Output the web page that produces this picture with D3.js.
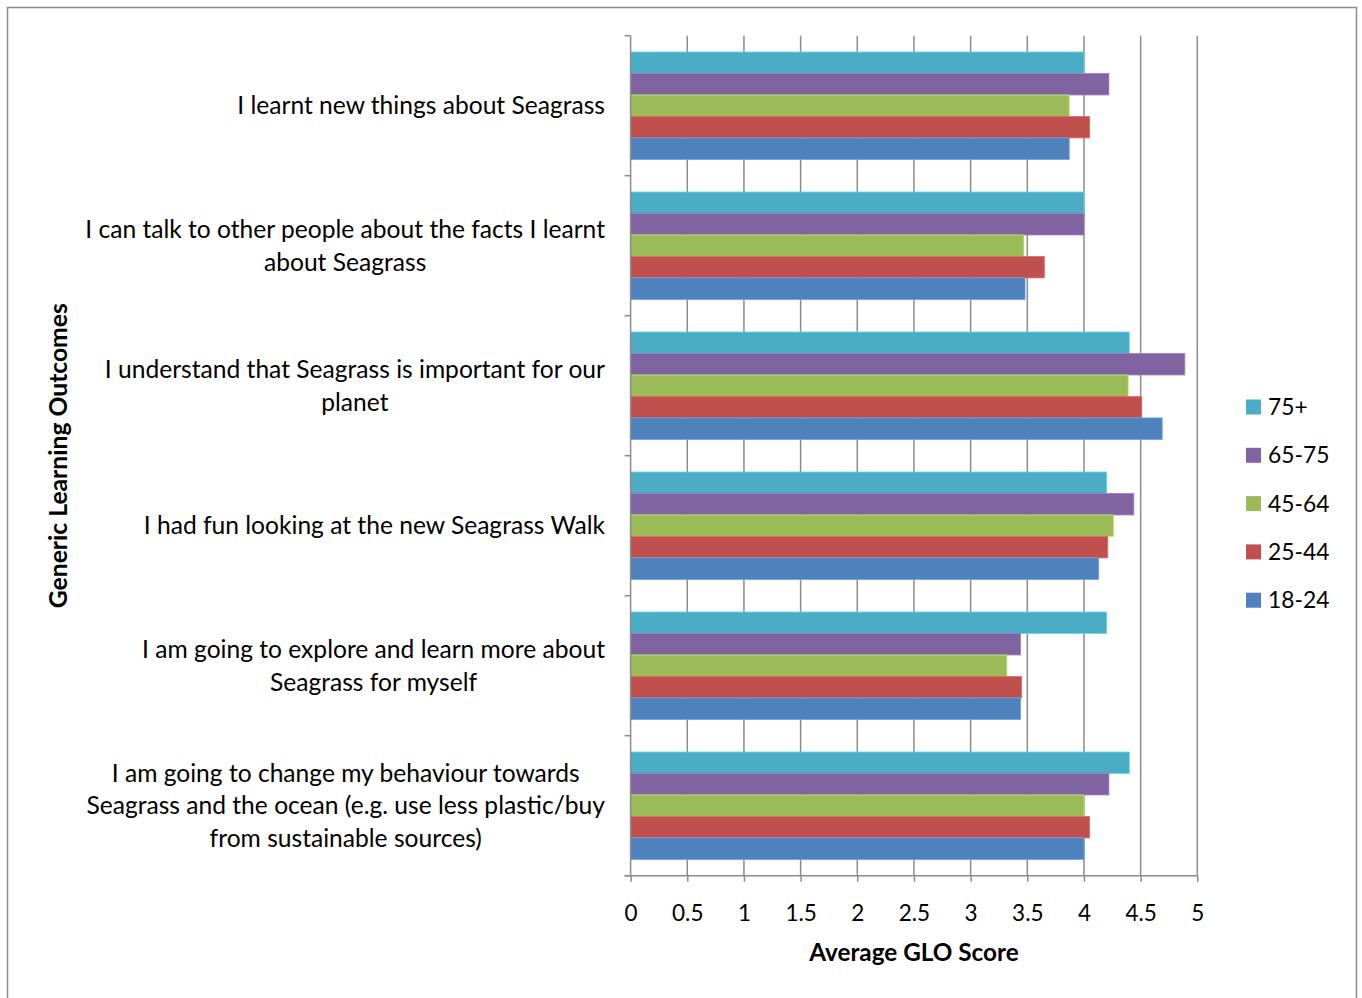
<!DOCTYPE html>
<html>
<head>
<meta charset="utf-8">
<script src="https://cdn.jsdelivr.net/npm/d3@7"></script>
<style>
  body { margin: 0; background: #fff; }
  svg { display: block; font-family: Lato, "Open Sans", sans-serif; }
</style>
</head>
<body>
<svg id="chart" width="1362" height="998"></svg>
<script>
// Generic Learning Outcomes by age group, average GLO score

const outcomes = [
  ['I learnt new things about Seagrass'],
  ['I can talk to other people about the facts I learnt', 'about Seagrass'],
  ['I understand that Seagrass is important for our', 'planet'],
  ['I had fun looking at the new Seagrass Walk'],
  ['I am going to explore and learn more about', 'Seagrass for myself'],
  ['I am going to change my behaviour towards', 'Seagrass and the ocean (e.g. use less plastic/buy', 'from sustainable sources)']
];

// drawn top to bottom inside each group
const ageGroups = ['75+', '65-75', '45-64', '25-44', '18-24'];
const ageColours = ['#4BACC6', '#8064A2', '#9BBB59', '#C0504D', '#4F81BD'];

const score75plus = [4.00, 4.00, 4.40, 4.20, 4.20, 4.40];
const score65to75 = [4.22, 4.00, 4.89, 4.44, 3.44, 4.22];
const score45to64 = [3.87, 3.47, 4.39, 4.26, 3.32, 4.00];
const score25to44 = [4.05, 3.65, 4.51, 4.21, 3.45, 4.05];
const score18to24 = [3.87, 3.48, 4.69, 4.13, 3.44, 4.00];
const seriesScores = [score75plus, score65to75, score45to64, score25to44, score18to24];

const xTicks = [0, 0.5, 1, 1.5, 2, 2.5, 3, 3.5, 4, 4.5, 5];

const svg = d3.select('#chart');
const gridColour = '#8c8c8c';

// outer frame
svg.append('rect')
  .attr('x', 7.5).attr('y', 7.5)
  .attr('width', 1349).attr('height', 1000)
  .attr('fill', 'none').attr('stroke', gridColour).attr('stroke-width', 1.5);

const plot = { left: 630.6, right: 1197.3, top: 35.7, bottom: 875.7 };

const x = d3.scaleLinear().domain([0, 5]).range([plot.left, plot.right]);
const y = d3.scaleBand().domain(d3.range(outcomes.length)).range([plot.top, plot.bottom]);
const yInner = d3.scaleBand().domain(ageGroups).range([0, y.bandwidth()]).paddingOuter(0.76);

// vertical gridlines
svg.append('g').selectAll('line')
  .data(xTicks.slice(1))
  .join('line')
  .attr('x1', d => x(d)).attr('x2', d => x(d))
  .attr('y1', plot.top).attr('y2', plot.bottom)
  .attr('stroke', gridColour).attr('stroke-width', 1.5);

// bars
const groups = svg.append('g').selectAll('g')
  .data(outcomes.map((o, i) => i))
  .join('g')
  .attr('transform', i => `translate(0,${y(i)})`);

groups.selectAll('rect')
  .data(i => ageGroups.map((a, s) => ({ age: a, colour: ageColours[s], value: seriesScores[s][i] })))
  .join('rect')
  .attr('x', x(0))
  .attr('y', d => yInner(d.age))
  .attr('width', d => x(d.value) - x(0))
  .attr('height', yInner.bandwidth())
  .attr('fill', d => d.colour)
  .attr('stroke', d => d3.color(d.colour).brighter(0.6))
  .attr('stroke-width', 0.8);

// x axis
const xAxis = svg.append('g')
  .attr('transform', `translate(0,${plot.bottom})`)
  .call(d3.axisBottom(x).tickValues(xTicks).tickFormat(d3.format('')).tickSize(6).tickPadding(23));
xAxis.select('.domain').attr('stroke', gridColour).attr('stroke-width', 1.5).attr('d', `M${plot.left - 6},0H${plot.right}`);
xAxis.selectAll('.tick line').attr('stroke', gridColour).attr('stroke-width', 1.5);
xAxis.selectAll('.tick text').attr('font-size', 22.5).attr('font-family', 'Lato, sans-serif').attr('fill', '#000');

// y axis: line plus ticks on group boundaries
svg.append('line')
  .attr('x1', plot.left).attr('x2', plot.left)
  .attr('y1', plot.top).attr('y2', plot.bottom)
  .attr('stroke', gridColour).attr('stroke-width', 1.5);
svg.append('g').selectAll('line')
  .data(d3.range(outcomes.length + 1))
  .join('line')
  .attr('x1', plot.left - 6).attr('x2', plot.left)
  .attr('y1', i => plot.top + i * y.step()).attr('y2', i => plot.top + i * y.step())
  .attr('stroke', gridColour).attr('stroke-width', 1.5);

// category labels: centred lines, block right-aligned to the axis
const lineHeight = 32.5;
const labelRight = 605;
outcomes.forEach((lines, i) => {
  const cy = y(i) + y.bandwidth() / 2;
  const t = svg.append('text')
    .attr('font-size', 24.6)
    .attr('text-anchor', 'middle')
    .attr('fill', '#000');
  lines.forEach((line, k) => {
    t.append('tspan')
      .attr('y', cy + (k - (lines.length - 1) / 2) * lineHeight)
      .attr('dy', '0.35em')
      .text(line);
  });
  let widest = 0;
  t.selectAll('tspan').each(function () { widest = Math.max(widest, this.getComputedTextLength()); });
  t.selectAll('tspan').attr('x', labelRight - widest / 2);
});

// axis titles
svg.append('text')
  .attr('x', (plot.left + plot.right) / 2).attr('y', 952).attr('dy', '0.35em')
  .attr('text-anchor', 'middle').attr('font-size', 24.3).attr('font-weight', 'bold')
  .text('Average GLO Score');

svg.append('text')
  .attr('transform', `translate(58,${(plot.top + plot.bottom) / 2}) rotate(-90)`)
  .attr('dy', '0.35em')
  .attr('text-anchor', 'middle').attr('font-size', 24.7).attr('font-weight', 'bold')
  .text('Generic Learning Outcomes');

// legend
const legend = svg.append('g').selectAll('g')
  .data(ageGroups)
  .join('g')
  .attr('transform', (d, i) => `translate(1246,${407 + i * 48.3})`);
legend.append('rect')
  .attr('x', 0).attr('y', -7.5).attr('width', 15).attr('height', 15)
  .attr('fill', (d, i) => ageColours[i]);
legend.append('text')
  .attr('x', 22).attr('dy', '0.35em')
  .attr('font-size', 22.8)
  .text(d => d);
</script>
</body>
</html>
